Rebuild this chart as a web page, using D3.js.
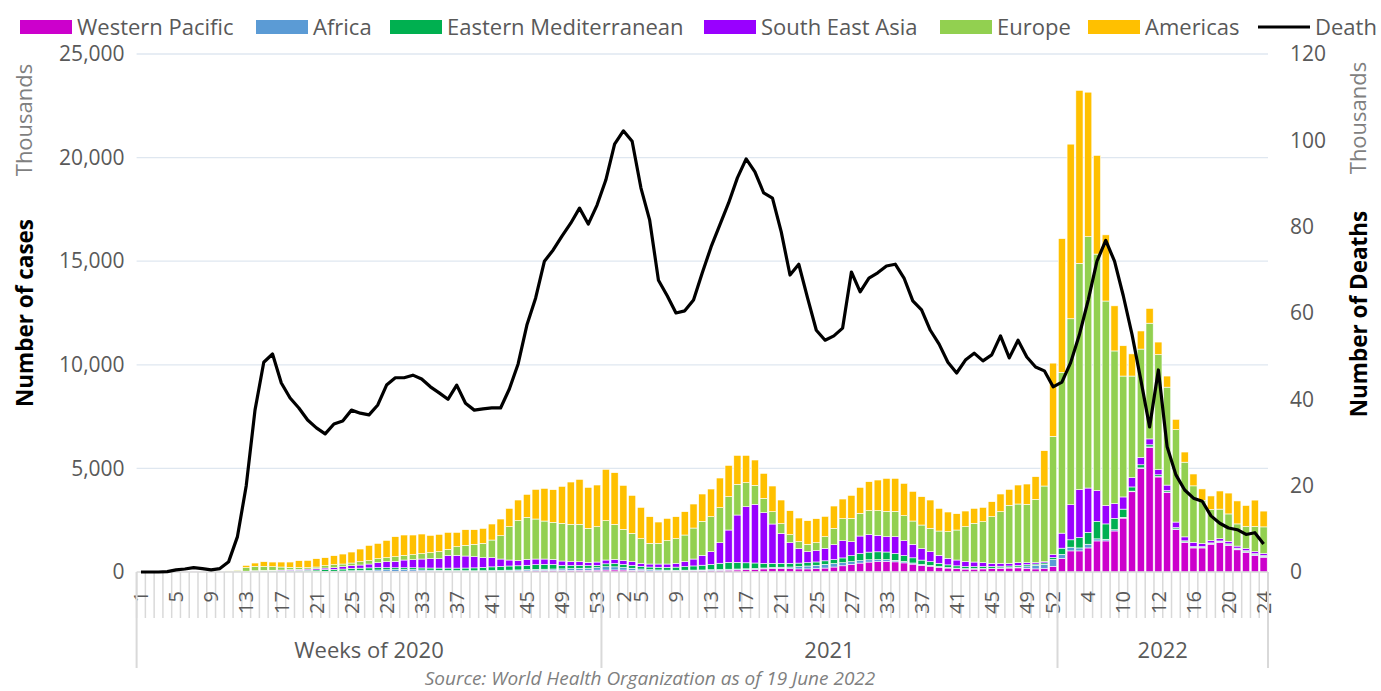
<!DOCTYPE html>
<html>
<head>
<meta charset="utf-8">
<script src="https://cdn.jsdelivr.net/npm/d3@7"></script>
<style>
  body { margin: 0; background: #fff; }
  svg text { font-family: "Segoe UI", "Open Sans", sans-serif; }
</style>
</head>
<body>
<svg></svg>
<script>
// regions, stacked bottom to top
const regions = ["Western Pacific", "Africa", "Eastern Mediterranean", "South East Asia", "Europe", "Americas"]
const colors = ["#cc00cc", "#5b9bd5", "#00b050", "#9900ff", "#92d050", "#ffc000"]

const yearNames = ["Weeks of 2020", "2021", "2022"]
const yearWeeks = [53, 52, 24]

// category index -> label shown under the axis
const tickIdx = [0, 4, 8, 12, 16, 20, 24, 28, 32, 36, 40, 44, 48, 52,
  55, 57, 61, 65, 69, 73, 77, 81, 85, 89, 93, 97, 101, 104,
  108, 112, 116, 120, 124, 128]
const tickText = ["1", "5", "9", "13", "17", "21", "25", "29", "33", "37", "41", "45", "49", "53",
  "2", "5", "9", "13", "17", "21", "25", "27", "33", "37", "41", "45", "49", "52",
  "4", "10", "12", "16", "20", "24"]

// weekly new cases, thousands
const westernPacific = [0,0,0,5,15,20,25,18,12,10,15,6,
  12,12,10,8,7,7,6,6,6,6,7,8,10,12,15,18,22,30,40,45,42,38,35,35,33,30,30,32,38,40,45,50,55,60,65,70,70,75,85,85,90,95,
  100,95,80,70,55,50,45,45,50,55,60,70,80,90,100,110,130,150,170,170,160,150,150,160,190,240,300,370,430,480,500,510,490,440,380,320,280,230,190,160,140,140,150,160,180,190,200,180,150,160,270,
  650,1019,1019,1162,1500,1500,1980,2600,3873,4997,6014,4587,3837,2054,1429,1161,1161,1340,1429,1286,1072,947,805,715]
const africa = [0,0,0,0,0,0,0,0,0,0,0,0,
  2,4,5,8,10,12,15,18,22,28,32,40,50,60,70,80,85,80,75,65,55,50,45,40,35,32,30,32,35,38,45,50,60,65,70,75,80,85,95,100,120,160,
  150,120,100,75,60,50,45,40,38,38,38,40,42,45,45,45,45,45,50,60,80,110,140,165,180,170,150,130,120,110,95,85,75,65,55,45,40,35,30,28,25,25,22,20,20,25,40,110,170,210,330,
  200,178,142,178,100,80,60,40,30,30,25,25,25,25,25,25,25,25,30,35,40,40,40,40]
const easternMed = [0,0,0,0,0,0,0,0,1,5,10,8,
  20,30,40,45,50,55,60,65,70,80,85,95,110,115,115,110,100,95,90,95,100,105,110,115,120,130,140,155,175,190,200,200,210,230,235,220,170,150,135,120,110,140,
  160,150,140,130,125,130,135,150,175,200,230,260,300,330,320,290,260,220,200,190,180,170,160,160,170,190,230,290,340,370,380,370,330,290,250,210,180,150,125,110,100,95,90,85,80,75,75,65,65,70,100,
  300,357,500,570,846,741,549,395,202,148,100,80,70,60,50,45,40,40,40,40,40,40,40,40]
const southEastAsia = [0,0,0,0,0,0,0,0,0,0,1,1,
  6,14,20,24,28,36,46,54,61,78,84,113,134,149,185,241,290,308,373,389,429,449,452,597,615,579,539,472,443,358,288,246,285,271,256,245,210,187,182,160,161,183,
  200,181,177,142,145,155,160,182,234,333,475,610,992,1561,2285,2707,2830,2448,1896,1445,994,695,530,543,601,718,831,673,846,841,793,739,809,716,649,550,480,388,313,280,232,221,187,152,137,127,134,94,64,57,140,
  725,1695,2319,2142,1481,892,713,588,446,357,285,251,262,271,192,198,149,113,108,121,98,98,98,98]
const europe = [0,0,0,0,0,0,0,1,5,15,20,70,
  168,212,197,171,145,114,81,65,81,112,145,129,129,162,161,193,194,226,225,241,257,290,338,306,419,515,595,691,852,1126,1609,1931,2027,1931,1834,1786,1818,1802,1802,1641,1706,1899,
  1689,1512,1368,1191,997,997,1126,1191,1288,1496,1641,1689,1690,1609,1480,1159,917,691,595,467,387,338,354,386,563,788,1062,1126,1094,1158,1191,1223,1223,1207,1126,1142,1126,1175,1287,1448,1690,1867,1979,2252,2494,2800,2832,2816,3057,3653,5709,
  7760,8973,10918,12131,11417,9865,7367,5834,4906,5227,5584,5548,4727,4460,3604,2729,2070,1499,1428,1321,1071,1071,1213,1285]
const americas = [0,0,0,0,0,0,0,0,0,1,5,10,
  112,161,225,225,241,257,338,354,402,386,434,482,531,611,740,740,836,965,982,950,950,836,837,820,691,756,708,724,773,805,885,997,1111,1432,1577,1577,1786,2044,2173,1979,2011,2478,
  2494,2124,1834,1512,1287,1030,1078,1061,1126,1159,1320,1336,1432,1512,1400,1319,1223,1207,1239,1142,1158,1142,1142,1159,982,1078,949,1110,1255,1400,1480,1593,1593,1560,1433,1368,1368,1094,950,788,756,724,692,725,853,772,917,981,1094,1705,3532,
  6455,8428,8349,6975,4763,3194,2177,1463,1070,874,714,607,536,500,490,572,565,653,875,1007,1109,1014,1274,762]

// weekly deaths, thousands
const deaths = [0,0,0,0.1,0.5,0.7,1,0.8,0.5,0.8,2.4,8.2,
  20,37.5,48.6,50.5,43.8,40.3,38,35.2,33.4,32,34.3,35,37.5,36.8,36.4,38.7,43.3,45,45,45.6,44.7,42.9,41.5,40,43.3,39.1,37.5,37.8,38,38,42.4,48.2,57.2,63.5,72,74.6,77.8,80.8,84.3,80.6,85,90.8,
  99.1,102.2,99.8,89,81.5,67.6,64,60,60.5,63,69.3,75.3,80.4,85.5,91.3,95.7,92.7,87.8,86.6,78.8,68.8,71.3,63.5,56,53.7,54.7,56.5,69.5,64.9,68.1,69.3,70.9,71.3,68.1,62.8,60.7,56,52.8,48.6,46.1,49.1,50.7,48.9,50.3,54.7,49.6,53.7,49.8,47.5,46.6,42.9,
  44,48.5,55,63,72,76.8,72,64,55,44.5,33.6,46.8,29,22.5,19,17.1,16.4,13,11.3,10.2,9.8,8.7,9.1,6.5]

const series = [westernPacific, africa, easternMed, southEastAsia, europe, americas]

const width = 1381,
      height = 691,
      plotLeft = 136.6,
      plotRight = 1268,
      plotTop = 54,
      plotBottom = 572

const svg = d3.select("svg")
  .attr("width", width)
  .attr("height", height)

const n = deaths.length
const rows = d3.range(n).map(i => {
  const r = { i: i }
  regions.forEach((k, j) => r[k] = series[j][i])
  return r
})

const x = d3.scaleBand()
  .domain(d3.range(n))
  .range([plotLeft, plotRight])
  .paddingInner(0.18)
  .paddingOuter(0.09)

const yCases = d3.scaleLinear().domain([0, 25000]).range([plotBottom, plotTop])
const yDeaths = d3.scaleLinear().domain([0, 120]).range([plotBottom, plotTop])

// gridlines
svg.append("g")
  .selectAll("line")
  .data(d3.range(5000, 25001, 5000))
  .join("line")
    .attr("x1", plotLeft)
    .attr("x2", plotRight)
    .attr("y1", d => yCases(d))
    .attr("y2", d => yCases(d))
    .attr("stroke", "#dfe7f0")
    .attr("stroke-width", 1.3)

// left axis
const axL = svg.append("g")
  .attr("transform", `translate(${plotLeft},0)`)
  .call(d3.axisLeft(yCases).tickValues(d3.range(0, 25001, 5000)).tickFormat(d3.format(",")).tickSize(0).tickPadding(12))
axL.select(".domain").remove()
axL.selectAll("text").attr("font-size", 21).attr("fill", "#595959")

// right axis
const axR = svg.append("g")
  .attr("transform", `translate(${plotRight},0)`)
  .call(d3.axisRight(yDeaths).tickValues(d3.range(0, 121, 20)).tickSize(0).tickPadding(22))
axR.select(".domain").remove()
axR.selectAll("text").attr("font-size", 21).attr("fill", "#595959")

// bars
const stacked = d3.stack().keys(regions)(rows)
svg.append("g")
  .selectAll("g")
  .data(stacked)
  .join("g")
    .attr("fill", (d, j) => colors[j])
  .selectAll("rect")
  .data(d => d)
  .join("rect")
    .attr("x", d => x(d.data.i))
    .attr("width", x.bandwidth())
    .attr("y", d => yCases(d[1]))
    .attr("height", d => Math.max(0, yCases(d[0]) - yCases(d[1])))
    .attr("stroke", "#fff")
    .attr("stroke-width", 0.6)

// x axis: category ticks
const step = x.step()
svg.append("line")
  .attr("x1", plotLeft).attr("x2", plotRight)
  .attr("y1", plotBottom).attr("y2", plotBottom)
  .attr("stroke", "#d9d9d9").attr("stroke-width", 1.5)

svg.append("g")
  .selectAll("line")
  .data(d3.range(n + 1))
  .join("line")
    .attr("x1", i => plotLeft + i * step)
    .attr("x2", i => plotLeft + i * step)
    .attr("y1", plotBottom)
    .attr("y2", plotBottom + 46)
    .attr("stroke", "#d9d9d9")
    .attr("stroke-width", 1.5)

const axB = svg.append("g")
  .attr("transform", `translate(0,${plotBottom})`)
  .call(d3.axisBottom(x).tickValues(tickIdx).tickFormat(i => tickText[tickIdx.indexOf(i)]).tickSize(0))
axB.select(".domain").remove()
axB.selectAll("text")
  .attr("transform", "rotate(-90)")
  .attr("x", -19)
  .attr("y", 0)
  .attr("dy", "0.36em")
  .attr("text-anchor", "end")
  .attr("font-size", 20)
  .attr("fill", "#595959")

// year groups
const bounds = [0]
yearWeeks.forEach(w => bounds.push(bounds[bounds.length - 1] + w))
svg.append("g")
  .selectAll("line")
  .data(bounds)
  .join("line")
    .attr("x1", b => plotLeft + b * step)
    .attr("x2", b => plotLeft + b * step)
    .attr("y1", plotBottom)
    .attr("y2", plotBottom + 96)
    .attr("stroke", "#d9d9d9")
    .attr("stroke-width", 2)

svg.append("g")
  .selectAll("text")
  .data(yearNames)
  .join("text")
    .attr("x", (d, k) => plotLeft + (bounds[k] + bounds[k + 1]) / 2 * step)
    .attr("y", 658)
    .attr("text-anchor", "middle")
    .attr("font-size", 22)
    .attr("fill", "#595959")
    .text(d => d)

// death line
const line = d3.line()
  .x((d, i) => x(i) + x.bandwidth() / 2)
  .y(d => yDeaths(d))

svg.append("path")
  .datum(deaths)
  .attr("d", line)
  .attr("fill", "none")
  .attr("stroke", "#000")
  .attr("stroke-width", 3.2)
  .attr("stroke-linejoin", "round")

// axis titles
function vtext(tx, ty, txt, bold, color) {
  svg.append("text")
    .attr("transform", `translate(${tx},${ty}) rotate(-90)`)
    .attr("text-anchor", "middle")
    .attr("font-size", bold ? 22.5 : 22)
    .attr("font-weight", bold ? "bold" : "normal")
    .attr("fill", color)
    .text(txt)
}
vtext(32, 120, "Thousands", false, "#7f7f7f")
vtext(33, 313, "Number of cases", true, "#000")
vtext(1366, 118, "Thousands", false, "#7f7f7f")
vtext(1367, 314, "Number of Deaths", true, "#000")

// legend
const legendX = [20, 256, 390, 704, 940, 1088]
const lg = svg.append("g")
regions.forEach((r, j) => {
  lg.append("rect")
    .attr("x", legendX[j]).attr("y", 20)
    .attr("width", 52).attr("height", 14)
    .attr("fill", colors[j])
  lg.append("text")
    .attr("x", legendX[j] + 57).attr("y", 35)
    .attr("font-size", 22)
    .attr("fill", "#595959")
    .text(r)
})
lg.append("line")
  .attr("x1", 1258).attr("x2", 1310)
  .attr("y1", 27).attr("y2", 27)
  .attr("stroke", "#000").attr("stroke-width", 3)
lg.append("text")
  .attr("x", 1315).attr("y", 35)
  .attr("font-size", 22)
  .attr("fill", "#595959")
  .text("Death")

// source
svg.append("text")
  .attr("x", 650)
  .attr("y", 685)
  .attr("text-anchor", "middle")
  .attr("font-size", 19)
  .attr("font-style", "italic")
  .attr("fill", "#7f7f7f")
  .text("Source: World Health Organization as of 19 June 2022")
</script>
</body>
</html>
